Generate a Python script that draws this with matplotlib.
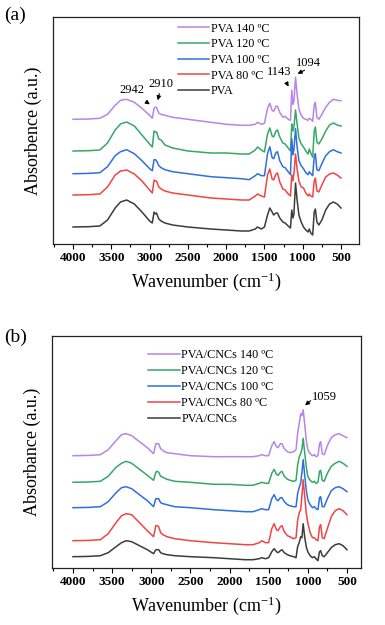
import matplotlib
matplotlib.use("Agg")
import matplotlib.pyplot as plt
from matplotlib.ticker import MultipleLocator

plt.rcParams['font.family'] = ['Liberation Serif', 'DejaVu Serif']
plt.rcParams['mathtext.fontset'] = 'custom'
plt.rcParams['mathtext.rm'] = 'Liberation Serif'
plt.rcParams['mathtext.it'] = 'Liberation Serif:italic'
plt.rcParams['mathtext.bf'] = 'Liberation Serif:bold'

# ---------------- Data: panel (a) ----------------
wn_a = [4000, 3800, 3650, 3550, 3450, 3380, 3300, 3200, 3100, 3000, 2965, 2942, 2925, 2910,
        2880, 2850, 2800, 2700, 2500, 2200, 2000, 1800, 1700, 1620, 1590, 1540, 1500, 1460,
        1430, 1400, 1380, 1350, 1330, 1300, 1260, 1230, 1190, 1160, 1143, 1128, 1115, 1094,
        1075, 1050, 1020, 990, 960, 930, 915, 895, 870, 850, 835, 815, 790, 750, 700, 650,
        600, 550, 500]
labels_a = ['PVA', 'PVA 80 \u00baC', 'PVA 100 \u00baC', 'PVA 120 \u00baC', 'PVA 140 \u00baC']
pva = [0, 0.3, 1, 7, 19, 25, 27, 23, 15, 6, 4, 15, 13, 14, 8, 6, 4, 2, 0, -2, -3, -4, -4, -2,
       0, -2, 0, 12, 19, 15, 12, 14, 14, 9, 5, 4, 1, -1, 17, 9, 13, 44, 28, 12, 5, 0, -3, -5,
       -2, -6, -8, 15, 18, 5, 2, 7, 17, 23, 25, 23, 19]
pva80 = [0, 0.3, 1, 8, 20, 24, 25, 21, 14, 5, 2, 15, 14, 14, 8, 6, 4, 2, 0, -3, -4, -5, -5,
         -1, 1, -1, -2, 20, 26, 16, 15, 21, 22, 13, 6, 5, 1, -1, 20, 14, 22, 41, 27, 14, 8, 7,
         2, -1, 1, -1, -2, 14, 17, 4, 3, 10, 18, 21, 22, 20, 17]
pva100 = [0, 0.3, 1, 7, 18, 22, 24, 20, 13, 5, 3, 14, 14, 13, 8, 6, 4, 2, 0, -3, -4, -5, -6,
          -2, 0, -2, -2, 20, 27, 16, 15, 21, 22, 13, 7, 6, 2, -1, 35, 19, 24, 45, 28, 13, 8, 5,
          1, -1, 2, 0, -2, 17, 20, 4, 3, 10, 18, 22, 24, 22, 20.7]
pva120 = [0, 0.3, 1, 8, 21, 27, 29, 25, 16, 7, 4, 20, 19, 19, 12, 11, 6, 3, 0, -2, -2, -3, -3,
          1, 4, 1, -1, 17, 23, 15, 14, 20, 21, 14, 8, 7, 3, 0, 27, 20, 24, 41, 28, 13, 7, 4, 0,
          -3, 2, -2, -6, 20, 24, 9, 7, 12, 20, 26, 28, 26, 25]
pva140 = [0, 0.3, 1, 5, 14, 19, 20, 17, 11, 4, 1, 11, 12, 12, 6, 5, 4, 2, 0, -3, -5, -6, -6,
          -5, -3, -5, -4, 11, 16, 9, 8, 13, 13, 7, 2, 3, 0, -1, 29, 15, 18, 42, 26, 10, 4, 1, 0,
          -1, 1, 0, -2, 14, 17, 2, 0, 5, 12, 17, 20, 19, 18.6]
series_a = [pva, pva80, pva100, pva120, pva140]

# ---------------- Data: panel (b) ----------------
wn_b = [4000, 3800, 3650, 3550, 3450, 3380, 3320, 3250, 3150, 3050, 2970, 2942, 2925, 2905,
        2880, 2850, 2800, 2700, 2500, 2200, 2000, 1800, 1700, 1620, 1590, 1540, 1500, 1460,
        1430, 1400, 1380, 1350, 1330, 1300, 1260, 1230, 1180, 1150, 1130, 1110, 1090, 1075,
        1059, 1040, 1020, 1000, 970, 940, 915, 895, 870, 850, 835, 815, 790, 750, 700, 650,
        600, 550, 500]
labels_b = ['PVA/CNCs', 'PVA/CNCs 80 \u00baC', 'PVA/CNCs 100 \u00baC', 'PVA/CNCs 120 \u00baC',
            'PVA/CNCs 140 \u00baC']
cnc = [0, 0.3, 1, 4, 10, 14, 16, 15, 11, 7, 3, 7, 7, 7, 4, 3, 2, 1, 0, -1, -2, -3, -3, -2, -1,
       -2, -1, 5, 8, 5, 4, 6, 7, 4, 2, 1, 0, -1, 10, 14, 20, 19, 33, 20, 10, 5, 1, -1, 0, -2,
       -4, 5, 6, 1, 0, 4, 9, 12, 13, 11, 7]
cnc80 = [0, 0.3, 1, 7, 18, 25, 27, 26, 18, 10, 4, 15, 15, 14, 8, 6, 4, 2, 0, -2, -3, -4, -4,
         -2, 0, -2, -2, 12, 17, 11, 10, 14, 15, 9, 5, 4, 2, 3, 20, 28, 31, 45, 61, 45, 28, 18,
         8, 3, 3, 1, 0, 14, 16, 3, 2, 12, 24, 30, 32, 30, 26]
cnc100 = [0, 0.3, 1, 6, 15, 20, 21, 19, 13, 7, 1, 9, 9, 9, 5, 4, 3, 1, 0, -2, -3, -4, -4, -2,
          -1, -2, -2, 9, 13, 8, 7, 10, 10, 6, 3, 2, 1, 1, 14, 20, 25, 35, 48, 33, 18, 8, 3, 0,
          1, -1, -2, 10, 11, 1, 1, 9, 17, 20, 21, 19, 16]
cnc120 = [0, 0.3, 1, 6, 15, 19, 21, 19, 13, 7, 2, 10, 11, 10, 6, 5, 3, 1, 0, -2, -2, -3, -3,
          -1, 0, -1, -1, 9, 13, 8, 7, 10, 11, 6, 3, 2, 1, 2, 17, 25, 29, 33, 44, 30, 16, 6, 2,
          0, 1, -1, 0, 11, 12, 2, 1, 9, 16, 19, 21, 19, 16]
cnc140 = [0, 0.3, 1, 6, 15, 21, 22, 20, 14, 8, 2, 12, 12, 12, 7, 5, 3, 2, 0, -1, -1, -1, -1,
          0, 1, 0, 0, 10, 14, 9, 8, 12, 12, 7, 4, 3, 4, 6, 22, 32, 42, 40, 46, 32, 16, 6, 2, 0,
          1, -1, 0, 12, 14, 2, 1, 10, 18, 21, 22, 20, 18]
series_b = [cnc, cnc80, cnc100, cnc120, cnc140]

# ---------------- Styling ----------------
colors = ['#3c3c3c', '#f04545', '#2f6fe0', '#36a866', '#b985e6']
offsets_a = [17, 49, 70.3, 93, 124.7]
offsets_b = [11.3, 27.3, 60.3, 85.7, 112.3]

fig = plt.figure(figsize=(3.85, 6.25), dpi=100)
ax1 = fig.add_axes([53/385, 1-244/625, (359-53)/385, (244-17)/625])
ax2 = fig.add_axes([52/385, 1-568/625, (361-52)/385, (568-336)/625])


def style(ax, xlim, ylim, ylabel):
    ax.set_xlim(*xlim)
    ax.set_ylim(*ylim)
    ax.xaxis.set_major_locator(MultipleLocator(500))
    ax.xaxis.set_minor_locator(MultipleLocator(250))
    ax.set_yticks([])
    ax.tick_params(axis='x', which='major', direction='out', length=3.5, width=0.8, pad=2,
                   labelsize=9.5)
    ax.tick_params(axis='x', which='minor', direction='out', length=2, width=0.8)
    for lab in ax.get_xticklabels():
        lab.set_fontweight('bold')
    for s in ax.spines.values():
        s.set_linewidth(0.9)
        s.set_color('#222222')
    ax.set_xlabel('Wavenumber (cm$^{-1}$)', fontsize=13, labelpad=5)
    ax.set_ylabel(ylabel, fontsize=13, labelpad=8)


# Panel (a)
for wn, vals, off, c, lab in reversed(list(zip([wn_a]*5, series_a, offsets_a, colors, labels_a))):
    ax1.plot(wn, [v + off for v in vals], color=c, lw=1.1, label=lab)
style(ax1, (4262, 265), (0, 227), 'Absorbence (a.u.)')
ax1.legend(loc='upper left', bbox_to_anchor=(0.408, 0.975), frameon=False, fontsize=8.7,
           handlelength=2.6, handletextpad=0.15, labelspacing=0.3, borderpad=0,
           borderaxespad=0)
arrow = dict(arrowstyle='-|>', color='black', lw=0.8, mutation_scale=6)
ax1.annotate('', xy=(2968, 138), xytext=(3060, 143), arrowprops=arrow)
ax1.annotate('', xy=(2903, 141), xytext=(2864, 153), arrowprops=arrow)
ax1.annotate('', xy=(1166, 155), xytext=(1218, 162), arrowprops=arrow)
ax1.annotate('', xy=(1100, 169), xytext=(944, 175), arrowprops=arrow)
ax1.text(3229, 154, '2942', ha='center', va='center', fontsize=9)
ax1.text(2857, 160, '2910', ha='center', va='center', fontsize=9)
ax1.text(1310, 172, '1143', ha='center', va='center', fontsize=9)
ax1.text(931, 181, '1094', ha='center', va='center', fontsize=9)

# Panel (b)
for wn, vals, off, c, lab in reversed(list(zip([wn_b]*5, series_b, offsets_b, colors, labels_b))):
    ax2.plot(wn, [v + off for v in vals], color=c, lw=1.1, label=lab)
style(ax2, (4268, 320), (0, 232), 'Absorbance (a.u.)')
ax2.legend(loc='upper left', bbox_to_anchor=(0.311, 0.944), frameon=False, fontsize=8.7,
           handlelength=2.6, handletextpad=0.15, labelspacing=0.34, borderpad=0,
           borderaxespad=0)
ax2.annotate('', xy=(1063, 161), xytext=(935, 169), arrowprops=arrow)
ax2.text(782, 171, '1059', ha='center', va='center', fontsize=9)

fig.text(4/385, 1-15/625, '(a)', fontsize=14, va='center', ha='left')
fig.text(4/385, 1-337/625, '(b)', fontsize=14, va='center', ha='left')

fig.savefig('out.png', dpi=100)
